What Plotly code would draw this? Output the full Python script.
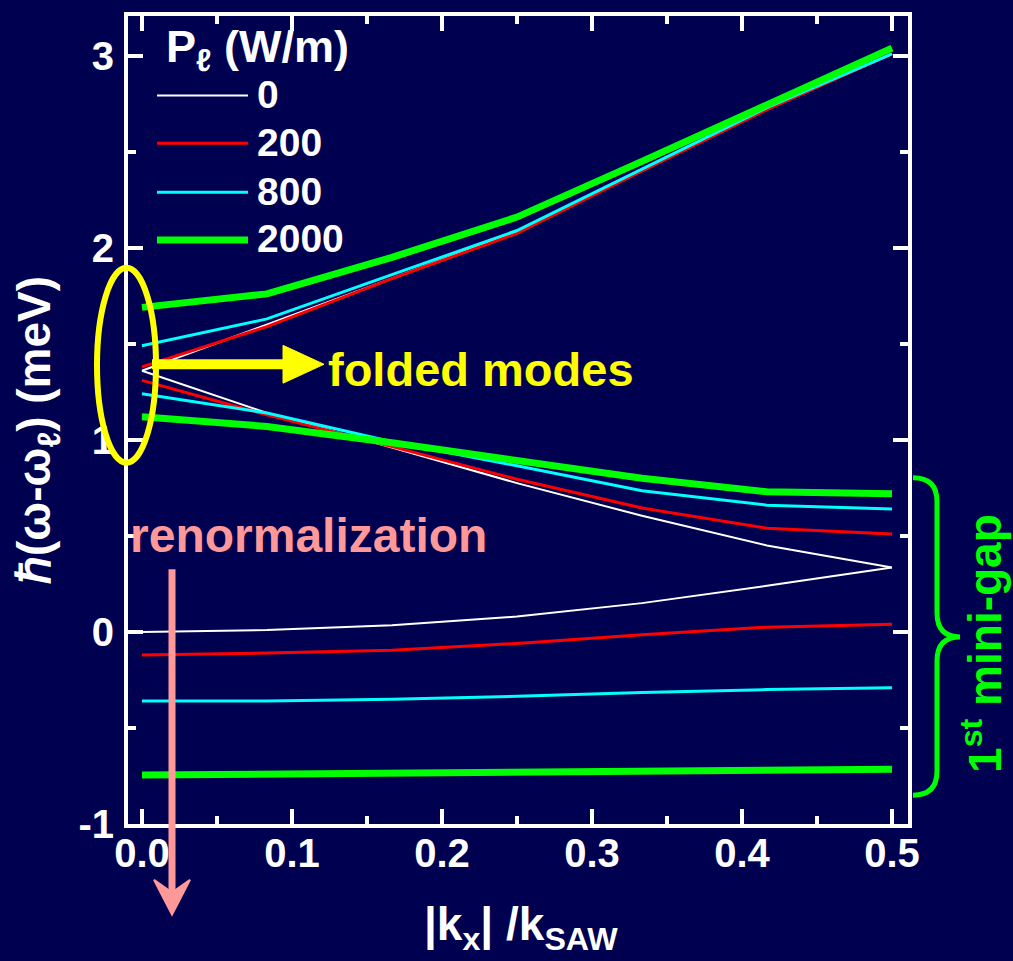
import plotly.graph_objects as go

# ---- data: folded acoustic-phonon-like dispersion under SAW power ----
k_ratio = [0, 1 / 12, 2 / 12, 3 / 12, 4 / 12, 5 / 12, 6 / 12]

power_labels = ["0", "200", "800", "2000"]
line_colors = ["#ffffff", "#ff0000", "#00ffff", "#00ff00"]
line_widths = [2, 3, 3, 7]

upper_0 = [1.36, 1.60, 1.84, 2.085, 2.40, 2.72, 3.01]
middle_0 = [1.36, 1.14, 0.96, 0.775, 0.605, 0.45, 0.335]
lower_0 = [0.0, 0.01, 0.035, 0.08, 0.15, 0.24, 0.335]

upper_200 = [1.38, 1.59, 1.84, 2.075, 2.40, 2.72, 3.01]
middle_200 = [1.31, 1.13, 0.965, 0.795, 0.645, 0.54, 0.51]
lower_200 = [-0.12, -0.11, -0.095, -0.06, -0.015, 0.025, 0.04]

upper_800 = [1.49, 1.63, 1.86, 2.09, 2.41, 2.73, 3.01]
middle_800 = [1.24, 1.14, 0.99, 0.865, 0.735, 0.66, 0.64]
lower_800 = [-0.36, -0.36, -0.35, -0.335, -0.315, -0.30, -0.29]

upper_2000 = [1.69, 1.76, 1.95, 2.16, 2.45, 2.75, 3.04]
middle_2000 = [1.12, 1.07, 0.985, 0.89, 0.80, 0.73, 0.72]
lower_2000 = [-0.745, -0.74, -0.735, -0.73, -0.725, -0.72, -0.715]

branches = [
    (upper_0, middle_0, lower_0),
    (upper_200, middle_200, lower_200),
    (upper_800, middle_800, lower_800),
    (upper_2000, middle_2000, lower_2000),
]

x_ticks = [0.0, 0.1, 0.2, 0.3, 0.4, 0.5]
x_ticklabels = ["0.0", "0.1", "0.2", "0.3", "0.4", "0.5"]
y_ticks = [-1, 0, 1, 2, 3]
y_ticklabels = ["-1", "0", "1", "2", "3"]

# ---- page geometry (pixels) ----
W, H = 1013, 961
ML, MR, MT, MB = 128, 105, 12, 137
PW, PH = W - ML - MR, H - MT - MB

BG = "#000050"
FONT = "Liberation Sans, Arial, sans-serif"


def px(x):
    return (x - ML) / PW


def py(y):
    return (H - MB - y) / PH


fig = go.Figure()

for (up, mid, low), name, col, lw in zip(branches, power_labels, line_colors, line_widths):
    xs = list(k_ratio) + [None] + list(k_ratio) + [None] + list(k_ratio)
    ys = list(up) + [None] + list(mid) + [None] + list(low)
    fig.add_trace(go.Scatter(x=xs, y=ys, mode="lines", name=name,
                             line=dict(color=col, width=lw),
                             connectgaps=False, showlegend=False,
                             hoverinfo="skip"))

axis_common = dict(
    showgrid=False, zeroline=False, showline=True, linecolor="white",
    linewidth=4, mirror="ticks", ticks="inside", ticklen=15, tickwidth=4,
    tickcolor="white",
    tickfont=dict(family=FONT, size=40, color="white", weight="bold"),
)

fig.update_xaxes(range=[-0.0093, 0.5107], tickmode="array", tickvals=x_ticks,
                 ticktext=x_ticklabels, ticklabelstandoff=-9,
                 minor=dict(dtick=0.05, tick0=0, ticks="inside", ticklen=8,
                            tickwidth=4, tickcolor="white"),
                 **axis_common)
fig.update_yaxes(range=[-1, 3.207], tickmode="array", tickvals=y_ticks,
                 ticktext=y_ticklabels, ticklabelstandoff=2,
                 minor=dict(dtick=0.5, tick0=0, ticks="inside", ticklen=8,
                            tickwidth=4, tickcolor="white"),
                 **axis_common)

shapes = []
annotations = []

# legend: title, line samples and power labels
annotations.append(dict(xref="paper", yref="paper", x=px(164), y=py(46),
                        xanchor="left", yanchor="middle", showarrow=False,
                        text="P<sub>ℓ</sub> (W/m)",
                        font=dict(family=FONT, size=45, color="white", weight="bold")))
legend_rows = [92, 140, 189, 237]
for row, name, col, lw in zip(legend_rows, power_labels, line_colors, line_widths):
    shapes.append(dict(type="line", xref="paper", yref="paper",
                       x0=px(157), x1=px(248), y0=py(row), y1=py(row),
                       line=dict(color=col, width=lw), layer="above"))
    annotations.append(dict(xref="paper", yref="paper", x=px(255), y=py(row - 1),
                            xanchor="left", yanchor="middle", showarrow=False,
                            text=name,
                            font=dict(family=FONT, size=39, color="white", weight="bold")))

# yellow ellipse around the folded modes at k = 0 and its arrow
YEL = "#ffff00"
shapes.append(dict(type="circle", xref="paper", yref="paper",
                   x0=px(97), x1=px(156), y0=py(461), y1=py(265),
                   line=dict(color=YEL, width=6), layer="above"))
shapes.append(dict(type="line", xref="paper", yref="paper",
                   x0=px(152), x1=px(290), y0=py(362), y1=py(362),
                   line=dict(color=YEL, width=10), layer="above"))
shapes.append(dict(type="path", xref="paper", yref="paper",
                   path=f"M {px(283)},{py(343)} L {px(324)},{py(362)} L {px(283)},{py(381)} Z",
                   fillcolor=YEL, line=dict(color=YEL, width=1), layer="above"))
annotations.append(dict(xref="paper", yref="paper", x=px(326), y=py(367),
                        xanchor="left", yanchor="middle", showarrow=False,
                        text="folded modes",
                        font=dict(family=FONT, size=47, color=YEL, weight="bold")))

# pink renormalization arrow
PINK = "#ff9999"
annotations.append(dict(xref="paper", yref="paper", x=px(128), y=py(534),
                        xanchor="left", yanchor="middle", showarrow=False,
                        text="renormalization",
                        font=dict(family=FONT, size=48, color=PINK, weight="bold")))
shapes.append(dict(type="line", xref="paper", yref="paper",
                   x0=px(172), x1=px(172), y0=py(568), y1=py(905),
                   line=dict(color=PINK, width=7), layer="above"))
shapes.append(dict(type="path", xref="paper", yref="paper",
                   path=(f"M {px(172)},{py(915)} L {px(154)},{py(880)} "
                         f"L {px(172)},{py(893)} L {px(190)},{py(880)} Z"),
                   fillcolor=PINK, line=dict(color=PINK, width=2), layer="above"))

# green brace marking the first mini-gap
GRN = "#00ff00"
brace = (f"M {px(913)},{py(476)} Q {px(937)},{py(476)} {px(937)},{py(500)} "
         f"L {px(937)},{py(612)} Q {px(937)},{py(636)} {px(960)},{py(636)} "
         f"Q {px(937)},{py(636)} {px(937)},{py(660)} "
         f"L {px(937)},{py(771)} Q {px(937)},{py(795)} {px(913)},{py(795)}")
shapes.append(dict(type="path", xref="paper", yref="paper", path=brace,
                   line=dict(color=GRN, width=5), layer="above"))
annotations.append(dict(xref="paper", yref="paper", x=px(982), y=py(643),
                        xanchor="center", yanchor="middle", showarrow=False,
                        textangle=-90, text="1<sup>st</sup> mini-gap",
                        font=dict(family=FONT, size=46, color=GRN, weight="bold")))

# axis titles
annotations.append(dict(xref="paper", yref="paper", x=px(38), y=py(428),
                        xanchor="center", yanchor="middle", showarrow=False,
                        textangle=-90, text="ℏ(ω-ω<sub>ℓ</sub>) (meV)",
                        font=dict(family=FONT, size=46, color="white", weight="bold")))
annotations.append(dict(xref="paper", yref="paper", x=px(521), y=py(928),
                        xanchor="center", yanchor="middle", showarrow=False,
                        text="|k<sub>x</sub>| /k<sub>SAW</sub>",
                        font=dict(family=FONT, size=46, color="white", weight="bold")))

fig.update_layout(
    width=W, height=H,
    margin=dict(l=ML, r=MR, t=MT, b=MB, pad=0),
    paper_bgcolor=BG, plot_bgcolor=BG,
    showlegend=False,
    shapes=shapes, annotations=annotations,
)

fig.write_html("out.html")
